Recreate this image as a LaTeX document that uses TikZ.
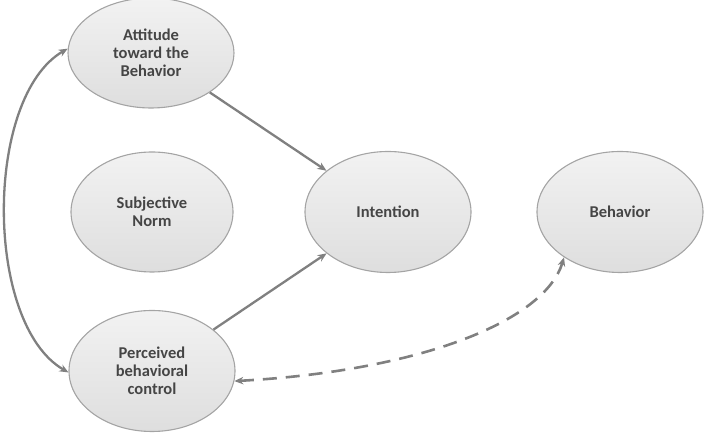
\documentclass[tikz,border=0pt]{standalone}
\usepackage{fontspec}
\setmainfont{Carlito}
\usetikzlibrary{shapes.geometric,arrows.meta,shadings}
\definecolor{edgegray}{HTML}{A4A4A4}
\definecolor{arrowgray}{HTML}{808080}
\definecolor{textgray}{HTML}{454545}
\definecolor{filltop}{HTML}{F2F2F2}
\definecolor{fillbot}{HTML}{DEDEDE}
\tikzset{
  bubble/.style={ellipse, draw=edgegray, line width=1.1pt, top color=filltop, bottom color=fillbot,
    minimum width=166pt, minimum height=121pt, inner sep=0pt, align=center,
    font=\fontsize{16.5}{17.8}\selectfont\bfseries, text=textgray},
  link/.style={draw=arrowgray, line width=2.3pt, -{Stealth[length=9pt,width=7.5pt]}},
  bilink/.style={draw=arrowgray, line width=2.3pt, {Stealth[length=9pt,width=7.5pt]}-{Stealth[length=9pt,width=7.5pt]}},
  dashlink/.style={bilink, line width=2.6pt, dash pattern=on 14pt off 9pt}
}
\begin{document}
\begin{tikzpicture}[x=1pt,y=1pt]
\useasboundingbox (0,0) rectangle (705,441);
\node[bubble, minimum height=110pt] (att) at (151,388) {Attitude\\toward the\\Behavior};
\node[bubble, minimum width=162pt, minimum height=120pt] (sn) at (152,229) {Subjective\\Norm};
\node[bubble] (pbc) at (152,70) {Perceived\\behavioral\\control};
\node[bubble] (int) at (388,229) {Intention};
\node[bubble] (beh) at (620,229) {Behavior};
\draw[link] (att) -- (int);
\draw[link] (pbc) -- (int);
\draw[bilink] (att.177) .. controls (-16,344) and (-16,117) .. (pbc.181);
\draw[dashlink] (pbc.353) .. controls (420,70) and (545,120) .. (beh.219);
\end{tikzpicture}
\end{document}
